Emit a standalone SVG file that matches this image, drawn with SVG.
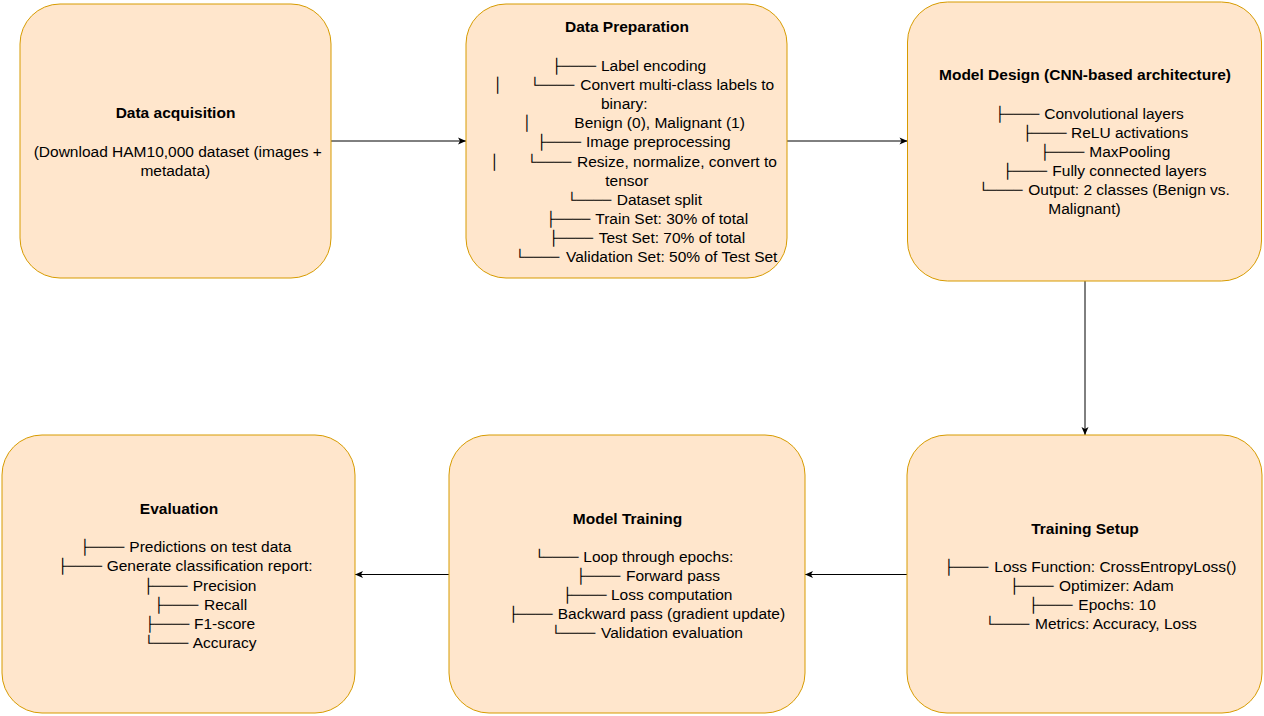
<svg xmlns="http://www.w3.org/2000/svg" width="1264" height="716" viewBox="0 0 1264 716">
<style>
.box{fill:#ffe6cc;stroke:#d79b00;stroke-width:1}
.t{font-family:"Liberation Sans",Arial,Helvetica,sans-serif;font-size:15.5px;fill:#000}
.b{font-weight:bold}
.c{text-anchor:middle}
.g{font-family:"DejaVu Sans",sans-serif;font-size:14.5px}
.edge{stroke:#000;stroke-width:1;fill:none;marker-end:url(#arr)}
</style>
<defs>
<marker id="arr" markerWidth="10" markerHeight="10" refX="9" refY="5" orient="auto" markerUnits="userSpaceOnUse">
<path d="M1,1.5 L9,5 L1,8.5 L3,5 Z" fill="#000"/>
</marker>
</defs>
<rect width="1264" height="716" fill="#fff"/>
<g id="connectors">
<path class="edge" d="M331,141 H466"/>
<path class="edge" d="M787,141 H907.5"/>
<path class="edge" d="M1085,281 V435"/>
<path class="edge" d="M907,574.5 H805"/>
<path class="edge" d="M449,574.5 H355"/>
</g>
<g id="data-acquisition">
<rect class="box" x="20" y="4" width="311" height="274" rx="40" ry="40"/>
<text class="t b c" x="175.5" y="118.3">Data acquisition</text>
<text class="t c" x="177.8" y="156.7">(Download HAM10,000 dataset (images +</text>
<text class="t c" x="175.3" y="175.7">metadata)</text>
</g>
<g id="data-preparation">
<rect class="box" x="466" y="4" width="321" height="274" rx="40" ry="40"/>
<text class="t b c" x="627" y="32">Data Preparation</text>
<text class="t" y="71"><tspan class="g" x="552.3">├────</tspan><tspan x="601">Label encoding</tspan></text>
<text class="t" y="90.1"><tspan class="g" x="493.3">│</tspan><tspan class="g" x="530.6">└────</tspan><tspan x="580.3">Convert multi-class labels to</tspan></text>
<text class="t" x="601" y="109.2">binary:</text>
<text class="t" y="128.3"><tspan class="g" x="522.6">│</tspan><tspan x="574.3">Benign (0), Malignant (1)</tspan></text>
<text class="t" y="147.4"><tspan class="g" x="537.3">├────</tspan><tspan x="586">Image preprocessing</tspan></text>
<text class="t" y="166.5"><tspan class="g" x="489.9">│</tspan><tspan class="g" x="527.6">└────</tspan><tspan x="577">Resize, normalize, convert to</tspan></text>
<text class="t" x="605.3" y="185.6">tensor</text>
<text class="t" y="204.7"><tspan class="g" x="567.6">└────</tspan><tspan x="616.7">Dataset split</tspan></text>
<text class="t" y="223.8"><tspan class="g" x="546.6">├────</tspan><tspan x="595.3">Train Set: 30% of total</tspan></text>
<text class="t" y="242.9"><tspan class="g" x="549.3">├────</tspan><tspan x="598.7">Test Set: 70% of total</tspan></text>
<text class="t" y="262"><tspan class="g" x="515.6">└────</tspan><tspan x="566">Validation Set: 50% of Test Set</tspan></text>
</g>
<g id="model-design">
<rect class="box" x="907.5" y="2" width="354" height="279" rx="40" ry="40"/>
<text class="t b c" x="1085" y="80">Model Design (CNN-based architecture)</text>
<text class="t" y="118.5"><tspan class="g" x="995.6">├────</tspan><tspan x="1044.3">Convolutional layers</tspan></text>
<text class="t" y="137.6"><tspan class="g" x="1022.9">├────</tspan><tspan x="1071">ReLU activations</tspan></text>
<text class="t" y="156.7"><tspan class="g" x="1040.6">├────</tspan><tspan x="1089.3">MaxPooling</tspan></text>
<text class="t" y="175.8"><tspan class="g" x="1003.3">├────</tspan><tspan x="1052.3">Fully connected layers</tspan></text>
<text class="t" y="194.9"><tspan class="g" x="978.9">└────</tspan><tspan x="1028.3">Output: 2 classes (Benign vs.</tspan></text>
<text class="t" x="1048.3" y="214">Malignant)</text>
</g>
<g id="training-setup">
<rect class="box" x="907" y="435" width="355" height="278" rx="40" ry="40"/>
<text class="t b c" x="1085" y="534">Training Setup</text>
<text class="t" y="571.7"><tspan class="g" x="944.6">├────</tspan><tspan x="994.3">Loss Function: CrossEntropyLoss()</tspan></text>
<text class="t" y="590.8"><tspan class="g" x="1009.9">├────</tspan><tspan x="1059">Optimizer: Adam</tspan></text>
<text class="t" y="609.9"><tspan class="g" x="1028.9">├────</tspan><tspan x="1078.3">Epochs: 10</tspan></text>
<text class="t" y="629"><tspan class="g" x="985.6">└────</tspan><tspan x="1035">Metrics: Accuracy, Loss</tspan></text>
</g>
<g id="model-training">
<rect class="box" x="449" y="435" width="356" height="278" rx="40" ry="40"/>
<text class="t b c" x="627.5" y="524.3">Model Training</text>
<text class="t" y="561.7"><tspan class="g" x="534.9">└────</tspan><tspan x="583.3">Loop through epochs:</tspan></text>
<text class="t" y="580.8"><tspan class="g" x="576.6">├────</tspan><tspan x="626">Forward pass</tspan></text>
<text class="t" y="599.9"><tspan class="g" x="562.9">├────</tspan><tspan x="611">Loss computation</tspan></text>
<text class="t" y="619"><tspan class="g" x="508.9">├────</tspan><tspan x="557.7">Backward pass (gradient update)</tspan></text>
<text class="t" y="638.1"><tspan class="g" x="551.6">└────</tspan><tspan x="601">Validation evaluation</tspan></text>
</g>
<g id="evaluation">
<rect class="box" x="2" y="435" width="353" height="278" rx="40" ry="40"/>
<text class="t b c" x="179" y="514.3">Evaluation</text>
<text class="t" y="552.3"><tspan class="g" x="80.6">├────</tspan><tspan x="129.3">Predictions on test data</tspan></text>
<text class="t" y="571.4"><tspan class="g" x="58.3">├────</tspan><tspan x="106.7">Generate classification report:</tspan></text>
<text class="t" y="590.5"><tspan class="g" x="143.9">├────</tspan><tspan x="192.7">Precision</tspan></text>
<text class="t" y="609.6"><tspan class="g" x="154.6">├────</tspan><tspan x="204">Recall</tspan></text>
<text class="t" y="628.7"><tspan class="g" x="145.6">├────</tspan><tspan x="194">F1-score</tspan></text>
<text class="t" y="647.8"><tspan class="g" x="144.6">└────</tspan><tspan x="192.7">Accuracy</tspan></text>
</g>
</svg>
